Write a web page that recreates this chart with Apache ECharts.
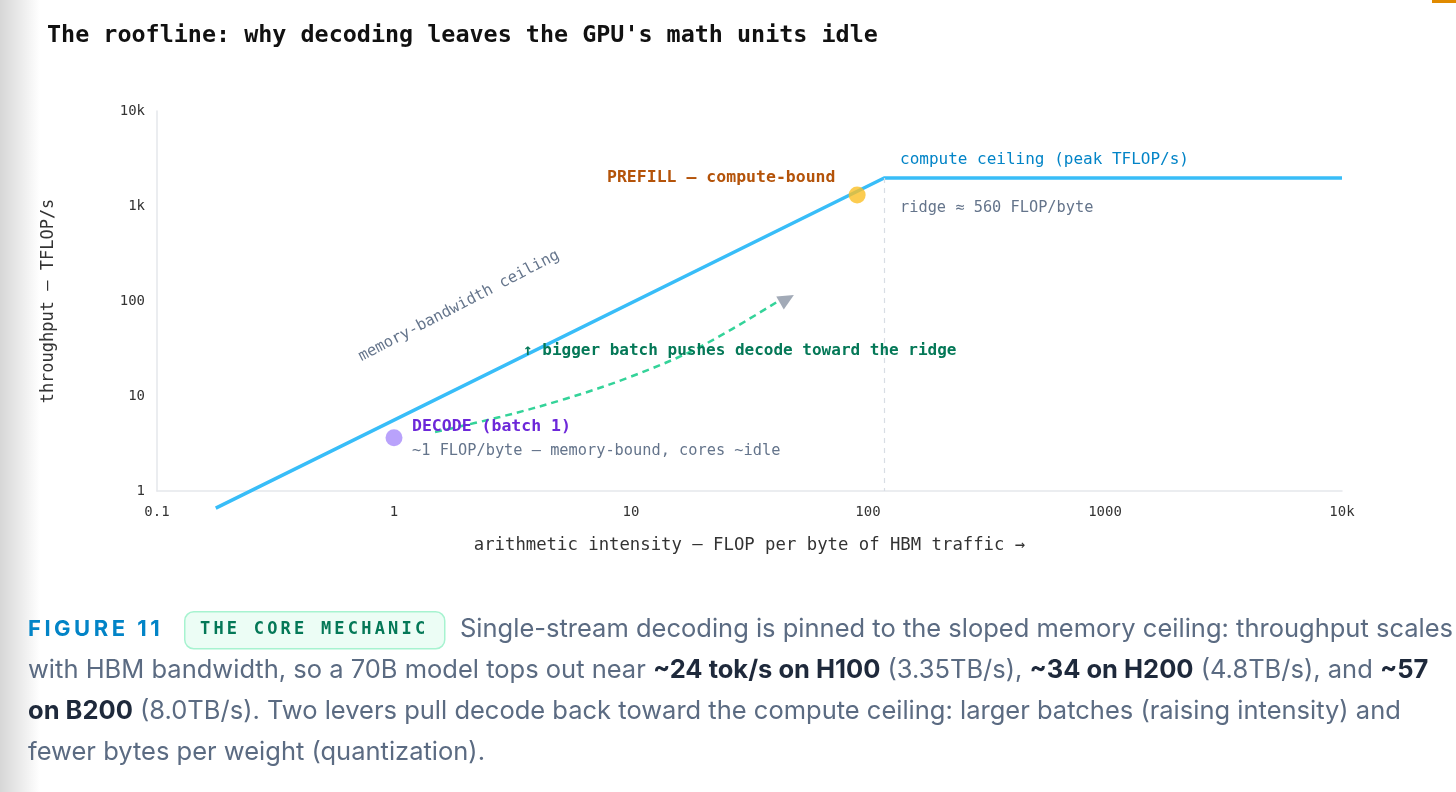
<!DOCTYPE html>
<html>
<head>
<meta charset="utf-8">
<script src="https://cdn.jsdelivr.net/npm/echarts@6/dist/echarts.min.js"></script>
<style>
  html, body { margin: 0; padding: 0; background: #fff; }
  #main { width: 1456px; height: 792px; }
</style>
</head>
<body>
<div id="main"></div>
<script>
// 数据
const rooflineX = [0.177, 117, 10000]
const rooflineY = [0.66, 1970, 1970]
const ridgeX = 117
const decodePoint = [1, 3.64]
const prefillPoint = [90, 1306]
const batchPathX = [1.49, 2.80, 5.27, 9.90, 19.5, 42.5]
const batchPathY = [4.18, 6.01, 9.30, 15.85, 32.8, 102]
const arrowHead = [45.5, 105]
const xTickLabels = { 0.1: '0.1', 1: '1', 10: '10', 100: '100', 1000: '1000', 10000: '10k' }
const yTickLabels = { 1: '1', 10: '10', 100: '100', 1000: '1k', 10000: '10k' }

const MONO = '"DejaVu Sans Mono", monospace'
const SANS = 'Inter, "Noto Sans", sans-serif'

// 逐字排版(模拟字间距)
function spaced(text, x, y, font, color, gap) {
  const ctx = document.createElement('canvas').getContext('2d')
  ctx.font = font
  let out = []
  let cx = x
  for (const ch of text) {
    out.push({ type: 'text', x: cx, y: y, z: 10,
      style: { text: ch, font: font, fill: color, verticalAlign: 'middle', textVerticalAlign: 'middle' } })
    cx += ctx.measureText(ch).width + gap
  }
  return out
}

function label(text, x, y, size, color, bold, extra) {
  return Object.assign({
    type: 'text', x: x, y: y, z: 10,
    style: { text: text, fill: color, font: (bold ? 'bold ' : '') + size + 'px ' + MONO,
      textVerticalAlign: 'middle', verticalAlign: 'middle' }
  }, extra || {})
}

const captionRich = {
  n: { fontFamily: SANS, fontSize: 25.5, fill: '#5b6b82', color: '#5b6b82' },
  b: { fontFamily: SANS, fontSize: 25.5, fill: '#1e293b', color: '#1e293b', fontWeight: 'bold' }
}
function captionLine(text, x, y) {
  return { type: 'text', x: x, y: y, z: 10,
    style: { text: text, rich: captionRich, verticalAlign: 'middle', textVerticalAlign: 'middle' } }
}

var myChart = echarts.init(document.getElementById('main'))

var option = {
  backgroundColor: '#fff',
  animation: false,
  grid: { left: 157, right: 114, top: 111, bottom: 301 },
  xAxis: {
    type: 'log', logBase: 10, min: 0.1, max: 10000,
    name: 'arithmetic intensity — FLOP per byte of HBM traffic →',
    nameLocation: 'middle', nameGap: 46,
    nameTextStyle: { fontFamily: MONO, fontSize: 17.3, color: '#333' },
    axisLine: { show: true, lineStyle: { color: '#e5e7eb', width: 1.5 } },
    axisTick: { show: false },
    splitLine: { show: false },
    minorTick: { show: false },
    axisLabel: { margin: 14, fontFamily: MONO, fontSize: 14, color: '#333',
      formatter: v => xTickLabels[+v.toPrecision(3)] || '' }
  },
  yAxis: {
    type: 'log', logBase: 10, min: 1, max: 10000,
    name: 'throughput — TFLOP/s',
    nameLocation: 'middle', nameGap: 100,
    nameTextStyle: { fontFamily: MONO, fontSize: 17, color: '#333' },
    axisLine: { show: true, lineStyle: { color: '#e5e7eb', width: 1.5 } },
    axisTick: { show: false },
    splitLine: { show: false },
    axisLabel: { margin: 12, fontFamily: MONO, fontSize: 14, color: '#333',
      formatter: v => yTickLabels[+v.toPrecision(3)] || '' }
  },
  series: [
    {
      // 屋顶线
      type: 'line', clip: false, symbol: 'none', z: 3,
      data: rooflineX.map((x, i) => [x, rooflineY[i]]),
      lineStyle: { color: '#38bdf8', width: 3.5 },
      markLine: {
        silent: true, symbol: 'none', label: { show: false },
        lineStyle: { color: '#d8dde4', type: [5, 5], width: 1.2 },
        data: [[{ coord: [ridgeX, rooflineY[1]] }, { coord: [ridgeX, 1] }]]
      }
    },
    {
      // batch 变大的路径
      type: 'line', smooth: 0.35, symbol: 'none', z: 4,
      data: batchPathX.map((x, i) => [x, batchPathY[i]]),
      lineStyle: { color: '#34d399', width: 2.5, type: [7, 5] }
    },
    {
      type: 'scatter', z: 5, symbol: 'triangle', symbolSize: [15, 16], symbolRotate: -60,
      data: [arrowHead], itemStyle: { color: '#8b95a5' }
    },
    {
      type: 'scatter', z: 6, symbolSize: 17,
      data: [decodePoint], itemStyle: { color: '#a78bfa' }
    },
    {
      type: 'scatter', z: 6, symbolSize: 17,
      data: [prefillPoint], itemStyle: { color: '#fbbf24' }
    }
  ],
  graphic: [
    // 左侧阴影
    { type: 'rect', left: 0, top: 0, z: 0, shape: { width: 40, height: 792 },
      style: { fill: new echarts.graphic.LinearGradient(0, 0, 1, 0, [
        { offset: 0, color: 'rgba(0,0,0,0.16)' }, { offset: 1, color: 'rgba(0,0,0,0)' }]) } },
    { type: 'rect', left: 1432, top: 0, z: 0, shape: { width: 24, height: 3 },
      style: { fill: '#e08a00' } },
    label("The roofline: why decoding leaves the GPU's math units idle", 47, 36, 23.4, '#111', true),
    label('compute ceiling (peak TFLOP/s)', 900, 160, 16, '#0284c7', false),
    label('ridge ≈ 560 FLOP/byte', 900, 208, 15.3, '#64748b', false),
    label('PREFILL — compute-bound', 607, 178, 16.5, '#b45309', true),
    label('memory-bandwidth ceiling', 459, 306, 15.5, '#64748b', false,
      { rotation: 27.5 * Math.PI / 180, style: { text: 'memory-bandwidth ceiling', fill: '#64748b',
        font: '15.5px ' + MONO, align: 'center', textAlign: 'center', verticalAlign: 'middle', textVerticalAlign: 'middle' } }),
    label('↑ bigger batch pushes decode toward the ridge', 523, 351, 16, '#047857', true),
    label('DECODE (batch 1)', 412, 427, 16.5, '#6d28d9', true),
    label('~1 FLOP/byte — memory-bound, cores ~idle', 412, 451, 15.3, '#64748b', false),
    // 图注
    { type: 'rect', left: 184, top: 611, z: 9, shape: { width: 260, height: 37, r: 9 },
      style: { fill: '#ecfdf5', stroke: '#a7f3d0', lineWidth: 1.5 } },
    ...spaced('FIGURE 11', 28, 629, 'bold 22px ' + SANS, '#0284c7', 3.5),
    ...spaced('THE CORE MECHANIC', 200, 630, 'bold 17px ' + MONO, '#047857', 3.2),
    captionLine('{n|Single-stream decoding is pinned to the sloped memory ceiling: throughput scales}', 460, 629),
    captionLine('{n|with HBM bandwidth, so a 70B model tops out near }{b|~24 tok/s on H100}{n| (3.35TB/s), }{b|~34 on H200}{n| (4.8TB/s), and }{b|~57}', 28, 670),
    captionLine('{b|on B200}{n| (8.0TB/s). Two levers pull decode back toward the compute ceiling: larger batches (raising intensity) and}', 28, 711),
    captionLine('{n|fewer bytes per weight (quantization).}', 28, 752)
  ]
}

myChart.setOption(option)
</script>
</body>
</html>
